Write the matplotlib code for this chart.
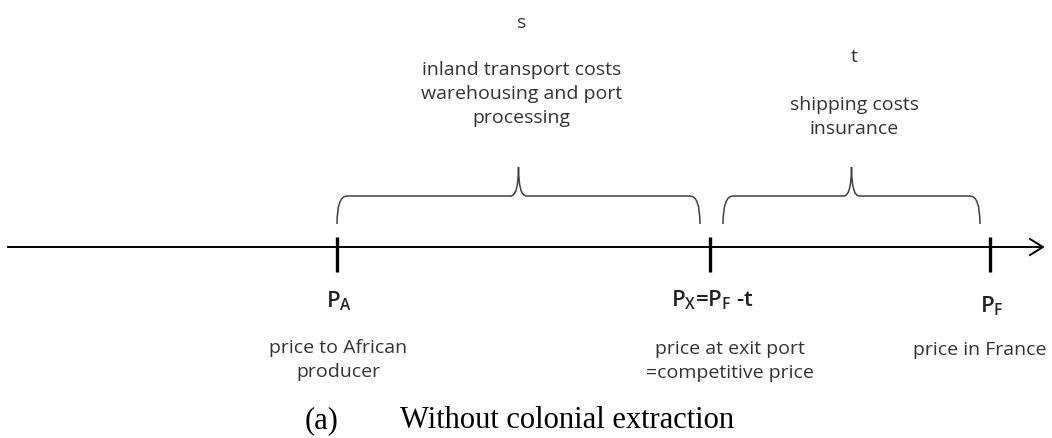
import matplotlib.pyplot as plt
from matplotlib.path import Path
from matplotlib.patches import PathPatch

# price points along the line (pixel-like units)
points = [337, 710, 990]
point_labels = [r'P$_\mathregular{A}$', r'P$_\mathregular{X}$=P$_\mathregular{F}$ -t', r'P$_\mathregular{F}$']
label_base = [307, 306, 312]
point_desc = ['price to African\nproducer', 'price at exit port\n=competitive price', 'price in France']
desc_x = [338, 730, 980]
desc_y = [360, 361, 350]

# cost brackets between points
brace_spans = [(337, 700), (723, 980)]
brace_names = ['s', 't']
brace_desc = ['inland transport costs\nwarehousing and port\nprocessing', 'shipping costs\ninsurance']
name_y = [23, 57]
brace_desc_y = [94, 117]

caption_tag = '(a)'
caption = 'Without colonial extraction'

txt = '#333333'
plt.rcParams['font.family'] = ['Open Sans', 'DejaVu Sans']

fig = plt.figure(figsize=(10.52, 4.39), dpi=100)
ax = fig.add_axes([0, 0, 1, 1])
ax.set_xlim(0, 1052)
ax.set_ylim(439, 0)
ax.axis('off')

axis_y = 248
ax.plot([8, 1041], [axis_y, axis_y], color='black', lw=1.4)
ax.plot([1030, 1043, 1030], [axis_y - 8, axis_y, axis_y + 8], color='black', lw=1.4)

for x in points:
    ax.plot([x, x], [238, 273], color='black', lw=2.4, solid_capstyle='butt')


def brace(x0, x1, top=197, bottom=225, peak=168):
    mid = (x0 + x1) / 2
    verts = [(x0, bottom), (x0, top), (x0 + 10, top),
             (mid - 8, top), (mid, top), (mid, peak),
             (mid, top), (mid + 8, top),
             (x1 - 10, top), (x1, top), (x1, bottom)]
    codes = [Path.MOVETO, Path.CURVE3, Path.CURVE3,
             Path.LINETO, Path.CURVE3, Path.CURVE3,
             Path.CURVE3, Path.CURVE3,
             Path.LINETO, Path.CURVE3, Path.CURVE3]
    ax.add_patch(PathPatch(Path(verts, codes), fill=False, edgecolor='#404040', lw=1.1))
    return mid


for (x0, x1), nm, ds, ny, dy in zip(brace_spans, brace_names, brace_desc, name_y, brace_desc_y):
    mid = brace(x0, x1)
    ax.text(mid + 3, ny, nm, ha='center', va='center', fontsize=14, color=txt)
    ax.text(mid + 3, dy, ds, ha='center', va='center', fontsize=14, color=txt, linespacing=1.4)

for x, lb, by in zip(points, point_labels, label_base):
    ax.text(x + 2, by, lb, ha='center', va='baseline', fontsize=16, color='#222222', fontweight='semibold')

for x, ds, y in zip(desc_x, point_desc, desc_y):
    ax.text(x, y, ds, ha='center', va='center', fontsize=14, color=txt, linespacing=1.4)

ax.text(305, 428, caption_tag, ha='left', va='baseline', fontsize=22, color='black', family='Liberation Serif')
ax.text(400, 428, caption, ha='left', va='baseline', fontsize=22, color='black', family='Liberation Serif')

fig.savefig('out.png', dpi=100)
